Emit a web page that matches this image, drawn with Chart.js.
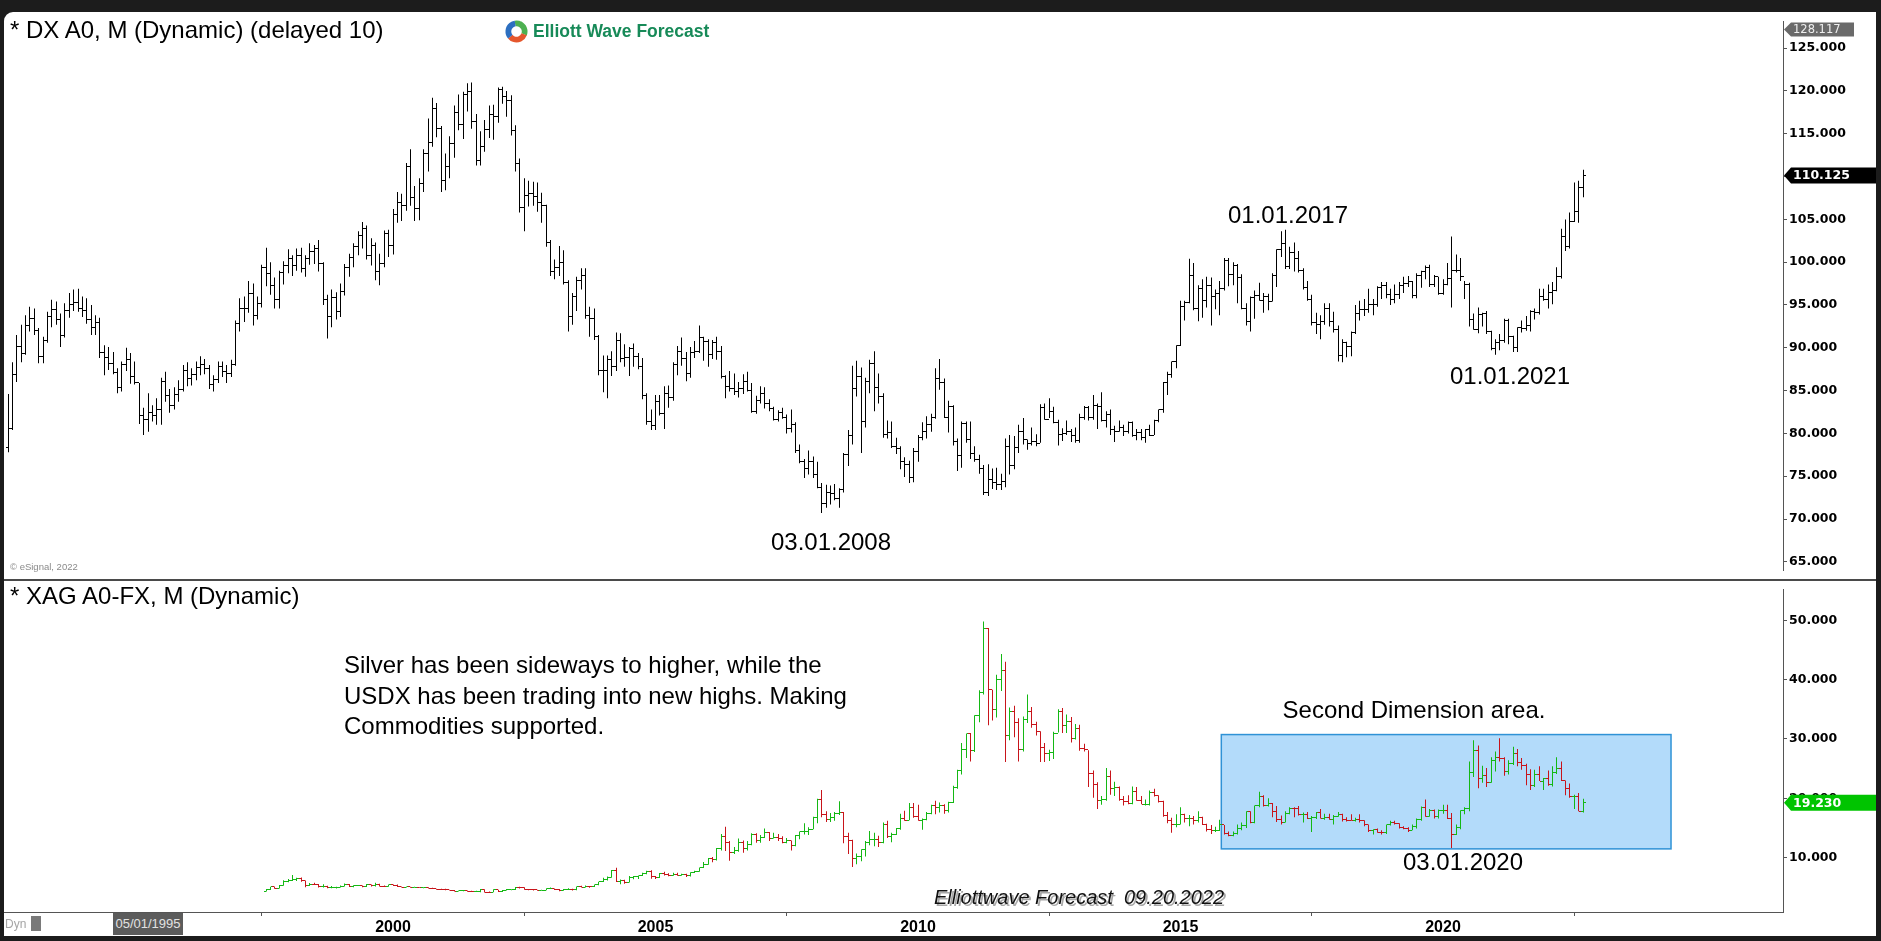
<!DOCTYPE html>
<html>
<head>
<meta charset="utf-8">
<script src="https://cdn.jsdelivr.net/npm/chart.js@4.4.0/dist/chart.umd.min.js"></script>
<style>
html, body { margin: 0; padding: 0; width: 1881px; height: 941px; overflow: hidden; background: #1c1c1c; }
#panel { position: absolute; left: 4px; top: 12px; width: 1872px; height: 924px; background: #fff; border-top-left-radius: 9px; }
canvas { position: absolute; left: 4px; }
#top { top: 12px; }
#bottom { top: 580px; }
#sep { position: absolute; left: 4px; top: 579px; width: 1872px; height: 2px; background: #4a4a4a; }
.t { position: absolute; font-family: "Liberation Sans", Arial, sans-serif; font-size: 24px; line-height: 24px; color: #000; white-space: pre; }
.c { transform: translateX(-50%); }
</style>
</head>
<body>
<div id="panel"></div>
<canvas id="top" width="1872" height="568"></canvas>
<canvas id="bottom" width="1872" height="356"></canvas>
<div id="sep"></div>

<div class="t" style="left:10px;top:18px">* DX A0, M (Dynamic) (delayed 10)</div>
<svg style="position:absolute;left:505px;top:20px" width="23" height="23" viewBox="0 0 24 24">
  <circle cx="12" cy="12" r="8.5" fill="none" stroke="#4db051" stroke-width="6" stroke-dasharray="17.8 35.6" transform="rotate(-100 12 12)"/>
  <circle cx="12" cy="12" r="8.5" fill="none" stroke="#e5572d" stroke-width="6" stroke-dasharray="17.8 35.6" transform="rotate(20 12 12)"/>
  <circle cx="12" cy="12" r="8.5" fill="none" stroke="#2d6fc0" stroke-width="6" stroke-dasharray="17.8 35.6" transform="rotate(140 12 12)"/>
</svg>
<div class="t" style="left:533px;top:23px;font-size:17.5px;line-height:17.5px;font-weight:bold;color:#178a58">Elliott Wave Forecast</div>
<div class="t c" style="left:1288px;top:203px">01.01.2017</div>
<div class="t c" style="left:1510px;top:364px">01.01.2021</div>
<div class="t c" style="left:831px;top:530px">03.01.2008</div>
<div class="t" style="left:10px;top:562px;font-size:9.5px;line-height:10px;color:#8a8a8a">© eSignal, 2022</div>

<div class="t" style="left:10px;top:584px">* XAG A0-FX, M (Dynamic)</div>
<div class="t" style="left:344px;top:650px;line-height:30.5px">Silver has been sideways to higher, while the
USDX has been trading into new highs. Making
Commodities supported.</div>
<div class="t c" style="left:1414px;top:698px">Second Dimension area.</div>
<div class="t c" style="left:1463px;top:850px">03.01.2020</div>
<div class="t c" style="left:1079px;top:887px;font-size:20px;line-height:20px;font-style:italic;color:#111;text-shadow:2px 2px 0 #a8a8a8">Elliottwave Forecast  09.20.2022</div>

<div class="t" style="left:5px;top:918px;font-size:12px;line-height:12px;color:#a6a6a6">Dyn</div>
<div style="position:absolute;left:31px;top:916px;width:10px;height:15px;background:#7a7a7a"></div>
<div class="t" style="left:113px;top:913px;width:70px;height:22px;background:#5c5c5c;color:#e2e2e2;font-size:13px;line-height:22px;text-align:center">05/01/1995</div>

<script>
// first month of each series: [year, month]
const dxyStart = [1992, 9];
const silverStart = [1997, 8];

// US Dollar index (DX A0), monthly
const dxyFirstOpen = 78.4;
const dxyHigh = [
  84.6, 88.3, 91.5, 92.7,
  93.8, 94.8, 94.6, 92.3, 91.3, 94.2, 95.6, 95.4, 94.0, 95.2, 96.4, 96.8,
  96.9, 96.0, 95.8, 95.0, 93.8, 93.5, 90.3, 90.1, 89.5, 87.6, 88.4, 90.0,
  89.4, 88.4, 85.9, 83.0, 84.7, 83.3, 84.1, 86.5, 87.2, 85.2, 85.4, 86.2,
  88.0, 88.3, 87.6, 88.4, 89.0, 88.7, 88.0, 86.8, 88.4, 88.4, 88.0, 88.6,
  93.2, 95.8, 96.0, 97.8, 97.5, 96.0, 99.7, 101.7, 100.0, 98.2, 99.0, 100.1,
  101.5, 100.8, 101.6, 101.7, 100.8, 102.2, 102.0, 102.6, 100.0, 96.2, 96.8, 96.5,
  97.5, 99.8, 101.0, 102.2, 103.6, 104.7, 104.3, 102.8, 102.3, 101.0, 103.7, 103.8,
  106.2, 108.2, 108.0, 111.6, 113.2, 108.9, 109.8, 113.2, 116.8, 119.2, 118.6, 115.9,
  112.7, 114.7, 118.3, 119.6, 119.9, 120.9, 121.0, 117.3, 115.3, 116.6, 118.3, 118.4,
  120.4, 120.5, 120.0, 119.5, 116.0, 112.1, 109.8, 109.5, 109.4, 109.3, 108.1, 106.7,
  102.6, 100.3, 101.9, 101.4, 97.9, 96.4, 98.3, 99.3, 99.3, 94.8, 94.6, 91.5,
  89.1, 89.1, 89.6, 91.8, 91.7, 90.4, 90.1, 90.5, 89.4, 88.8, 84.7, 82.8,
  84.5, 84.5, 85.5, 85.6, 88.3, 90.2, 91.2, 89.5, 90.1, 90.8, 92.6, 91.3,
  91.0, 90.9, 91.3, 90.2, 86.8, 87.3, 87.0, 86.0, 86.9, 87.2, 85.9, 84.4,
  85.5, 85.4, 84.0, 83.1, 82.7, 83.0, 82.2, 82.8, 81.3, 78.7, 77.0, 78.0,
  77.3, 76.7, 74.2, 74.0, 73.9, 74.1, 73.6, 77.7, 80.4, 87.9, 88.5, 87.7,
  86.5, 88.6, 89.6, 87.0, 84.7, 81.5, 81.4, 79.5, 78.5, 77.2, 76.8, 78.3,
  79.8, 81.3, 82.0, 82.3, 87.6, 88.7, 86.4, 83.8, 83.3, 79.4, 81.4, 81.4,
  81.4, 78.5, 77.5, 76.3, 76.4, 75.9, 76.0, 75.3, 79.4, 79.8, 79.7, 81.0,
  81.8, 79.3, 80.7, 79.9, 83.4, 83.5, 84.1, 83.1, 81.6, 80.6, 81.5, 80.5,
  80.7, 82.3, 83.2, 83.2, 84.5, 83.5, 84.8, 82.6, 82.8, 80.9, 81.5, 81.0,
  81.4, 81.4, 80.5, 80.5, 80.5, 81.0, 81.6, 82.8, 86.0, 87.2, 88.4, 90.3,
  95.5, 95.5, 100.4, 99.9, 97.3, 98.0, 98.3, 98.2, 96.8, 97.8, 100.5, 100.5,
  100.0, 99.8, 98.6, 95.2, 96.0, 96.7, 97.6, 96.4, 96.3, 98.7, 101.5, 103.6,
  103.8, 101.8, 102.3, 101.3, 99.3, 97.8, 96.2, 94.1, 93.8, 95.2, 95.2, 94.2,
  92.6, 91.0, 90.7, 91.9, 95.0, 95.5, 95.7, 96.9, 95.7, 97.2, 97.7, 97.7,
  96.9, 97.4, 97.7, 98.3, 98.4, 97.8, 98.7, 99.0, 99.6, 99.7, 98.5, 98.3,
  98.0, 99.9, 103.0, 100.9, 100.5, 97.8, 97.6, 94.0, 94.7, 94.1, 94.3, 92.0,
  91.0, 91.6, 93.4, 93.4, 91.4, 92.4, 93.2, 93.7, 94.4, 94.6, 96.9, 96.9,
  97.4, 97.7, 99.4, 103.9, 105.0, 105.8, 109.3, 109.5, 110.8
];
const dxyLow = [
  77.8, 80.4, 86.0, 88.3,
  89.2, 91.9, 91.5, 88.2, 88.2, 90.6, 92.4, 92.7, 90.1, 91.2, 93.5, 94.3,
  94.2, 93.6, 92.8, 91.5, 91.5, 88.8, 86.8, 87.4, 86.9, 84.7, 84.9, 87.3,
  85.8, 85.7, 81.1, 79.8, 80.2, 81.4, 81.0, 81.0, 83.7, 82.4, 82.8, 83.7,
  84.9, 85.5, 85.6, 86.2, 86.8, 86.9, 85.2, 84.9, 85.9, 86.6, 85.9, 86.6,
  87.9, 91.9, 93.0, 94.1, 92.6, 93.3, 94.7, 97.2, 96.2, 94.6, 94.6, 97.4,
  98.7, 98.4, 99.0, 98.8, 98.3, 99.7, 99.8, 98.9, 95.0, 91.1, 92.4, 93.3,
  93.6, 96.1, 98.3, 99.4, 100.8, 101.6, 100.3, 99.6, 97.9, 97.3, 99.4, 100.6,
  100.9, 104.6, 104.8, 106.0, 106.6, 104.8, 104.9, 108.2, 110.6, 113.5, 114.6, 108.2,
  108.4, 109.8, 112.2, 115.4, 114.4, 117.6, 115.6, 111.3, 111.3, 112.9, 114.5, 114.3,
  116.3, 118.5, 117.0, 114.8, 110.6, 105.8, 103.6, 106.5, 106.6, 105.9, 104.6, 101.8,
  98.4, 98.0, 98.4, 97.4, 91.9, 92.7, 94.3, 96.8, 93.4, 91.3, 90.9, 86.8,
  84.8, 84.1, 86.7, 87.3, 88.3, 87.8, 86.7, 87.8, 87.5, 84.0, 81.0, 80.4,
  80.4, 82.1, 80.5, 83.0, 83.8, 86.8, 87.9, 86.1, 86.5, 88.8, 89.4, 88.5,
  87.8, 88.7, 88.6, 86.4, 84.1, 84.9, 84.5, 84.2, 84.6, 84.9, 82.4, 82.3,
  83.5, 82.9, 82.6, 81.5, 81.4, 81.7, 80.0, 80.1, 77.7, 76.5, 74.8, 75.2,
  74.8, 73.6, 70.7, 71.3, 71.7, 72.2, 71.3, 73.1, 76.2, 78.7, 84.3, 77.7,
  80.7, 84.7, 82.6, 83.5, 79.5, 79.4, 78.3, 77.6, 75.8, 74.9, 74.2, 74.3,
  76.7, 79.2, 79.4, 80.2, 81.7, 85.1, 81.8, 80.1, 78.6, 75.6, 76.0, 78.9,
  77.0, 76.7, 75.3, 72.8, 72.7, 73.5, 73.4, 73.4, 73.7, 75.2, 75.8, 77.7,
  78.7, 78.1, 78.6, 78.5, 78.9, 81.6, 81.8, 81.2, 78.6, 79.1, 79.8, 79.0,
  78.9, 78.9, 81.6, 81.5, 81.6, 80.5, 81.4, 80.7, 79.8, 79.0, 80.2, 79.7,
  80.0, 79.6, 79.2, 79.2, 78.9, 79.7, 79.8, 81.3, 82.4, 84.5, 86.5, 87.6,
  90.2, 93.2, 95.2, 94.4, 93.1, 93.5, 94.7, 92.6, 94.5, 93.8, 96.7, 97.2,
  97.3, 95.2, 94.5, 92.6, 91.9, 93.4, 95.5, 94.1, 94.4, 95.4, 97.1, 100.6,
  99.2, 99.2, 98.9, 98.8, 96.8, 95.5, 92.6, 91.6, 91.0, 92.7, 92.5, 91.8,
  88.4, 88.3, 88.9, 89.0, 91.6, 93.2, 93.7, 94.1, 93.8, 94.8, 95.7, 95.8,
  95.0, 95.2, 95.7, 96.4, 97.1, 95.8, 95.8, 97.0, 98.0, 97.1, 97.1, 96.2,
  96.2, 97.3, 94.7, 98.8, 97.8, 95.7, 92.5, 92.1, 91.7, 92.5, 91.6, 89.7,
  89.2, 89.7, 90.6, 90.4, 89.5, 89.5, 91.8, 92.0, 91.9, 93.3, 93.9, 95.5,
  94.6, 95.1, 96.6, 98.1, 101.3, 101.6, 104.7, 104.6, 107.6
];
const dxyClose = [
  80.6, 86.9, 90.1, 89.3,
  92.6, 93.4, 92.0, 89.0, 90.8, 93.6, 94.5, 93.3, 91.4, 94.3, 95.1, 95.3,
  94.6, 94.4, 93.3, 92.4, 92.9, 89.4, 88.9, 88.2, 87.1, 85.4, 88.0, 88.6,
  86.7, 85.9, 82.1, 81.6, 82.4, 82.1, 82.8, 86.1, 84.4, 83.3, 84.6, 85.1,
  87.4, 86.4, 86.9, 87.7, 88.0, 87.6, 85.7, 86.3, 87.8, 87.2, 87.0, 88.1,
  92.8, 94.6, 94.6, 96.3, 93.8, 95.2, 99.4, 98.7, 97.3, 95.6, 98.8, 99.6,
  100.4, 99.6, 100.8, 99.3, 100.4, 101.2, 101.6, 99.8, 95.7, 93.6, 95.9, 94.2,
  96.6, 99.4, 100.5, 101.8, 103.1, 103.9, 100.8, 101.9, 98.9, 99.8, 103.3, 101.9,
  105.6, 107.0, 106.6, 111.2, 107.6, 106.3, 109.2, 112.7, 114.0, 117.9, 115.6, 109.6,
  111.2, 113.9, 117.5, 116.1, 119.6, 119.9, 116.4, 111.9, 113.5, 115.5, 117.3, 117.0,
  120.2, 119.4, 118.9, 115.4, 111.5, 106.4, 107.8, 108.0, 107.7, 107.0, 106.6, 102.3,
  98.9, 99.4, 100.0, 97.6, 93.6, 96.0, 97.9, 98.5, 93.8, 93.4, 91.3, 87.4,
  87.3, 88.6, 87.8, 90.8, 88.8, 88.9, 89.9, 89.0, 87.8, 84.4, 81.4, 80.9,
  83.7, 82.3, 84.7, 84.2, 88.0, 89.6, 88.8, 87.0, 89.5, 89.6, 91.2, 90.7,
  89.2, 90.6, 89.6, 86.6, 85.5, 85.3, 84.9, 85.2, 86.1, 85.0, 82.6, 83.8,
  84.7, 83.5, 82.9, 81.6, 82.4, 81.9, 80.6, 81.0, 78.0, 76.7, 75.9, 76.7,
  75.2, 73.7, 71.8, 73.1, 73.0, 72.4, 73.4, 77.5, 79.7, 85.3, 86.7, 81.4,
  86.1, 88.2, 85.4, 84.3, 79.9, 80.1, 78.5, 78.2, 76.7, 76.4, 74.9, 77.9,
  79.5, 80.2, 81.0, 81.8, 86.4, 86.0, 81.9, 83.2, 79.1, 77.4, 81.1, 79.3,
  77.6, 76.9, 75.9, 73.1, 74.6, 74.3, 74.0, 74.4, 78.5, 76.3, 78.3, 80.2,
  79.3, 78.8, 79.0, 78.8, 83.0, 81.6, 82.6, 81.3, 79.9, 80.0, 80.2, 79.8,
  79.2, 81.8, 83.0, 81.8, 83.3, 83.1, 81.5, 82.2, 80.4, 80.2, 80.7, 80.2,
  81.3, 79.7, 80.1, 79.5, 80.4, 79.8, 81.5, 82.8, 86.0, 86.9, 88.4, 90.3,
  94.8, 95.3, 98.4, 94.6, 96.9, 95.5, 97.3, 96.0, 96.3, 96.9, 100.2, 98.6,
  99.6, 98.2, 94.6, 93.1, 95.9, 96.1, 95.5, 96.0, 95.4, 98.4, 101.5, 102.2,
  99.5, 101.1, 100.4, 99.0, 97.0, 95.6, 92.9, 92.7, 93.1, 94.6, 93.1, 92.1,
  89.1, 90.6, 90.2, 91.8, 94.0, 94.5, 94.5, 95.1, 95.1, 97.1, 97.3, 96.2,
  95.6, 96.2, 97.3, 97.5, 97.8, 96.1, 98.5, 98.9, 99.4, 97.4, 98.3, 96.4,
  97.4, 98.1, 99.0, 99.0, 98.3, 97.4, 93.3, 92.1, 93.9, 94.0, 91.9, 89.9,
  90.6, 90.9, 93.2, 91.3, 90.0, 92.4, 92.2, 92.6, 94.2, 94.1, 96.0, 95.7,
  96.5, 96.7, 98.3, 103.0, 101.8, 104.7, 105.9, 108.7, 110.125
];

// Silver (XAG A0-FX), monthly
const silverFirstOpen = 4.35;
const silverHigh = [
  4.70, 5.10, 5.15, 5.40, 6.20,
  6.40, 7.05, 6.60, 6.65, 6.15, 5.70, 5.75, 5.55, 5.50, 5.25, 5.20, 5.10,
  5.30, 5.65, 5.55, 5.35, 5.40, 5.30, 5.55, 5.45, 5.75, 5.60, 5.30, 5.45,
  5.45, 5.45, 5.15, 5.15, 5.10, 5.10, 5.05, 5.00, 5.00, 4.90, 4.75, 4.75,
  4.75, 4.60, 4.55, 4.45, 4.55, 4.45, 4.40, 4.40, 4.70, 4.65, 4.30, 4.65,
  4.60, 4.55, 4.70, 4.65, 5.05, 5.10, 5.00, 4.70, 4.70, 4.60, 4.60, 4.85,
  4.95, 4.80, 4.70, 4.70, 4.85, 4.75, 5.15, 5.25, 5.30, 5.20, 5.45, 5.95,
  6.60, 6.80, 7.90, 8.30, 6.30, 6.25, 6.90, 6.90, 7.00, 7.45, 7.80, 7.85,
  6.90, 7.40, 7.60, 7.35, 7.45, 7.45, 7.30, 7.30, 7.55, 7.80, 8.35, 9.25,
  9.95, 10.10, 11.60, 14.00, 15.20, 12.80, 11.80, 13.20, 12.90, 12.80, 14.10, 14.10,
  13.80, 14.90, 14.30, 14.20, 14.00, 13.60, 13.30, 12.90, 13.80, 14.40, 15.80, 15.10,
  16.90, 19.90, 21.40, 17.80, 17.50, 17.70, 19.50, 17.70, 14.20, 13.00, 10.70, 11.40,
  12.80, 14.50, 14.20, 13.70, 15.90, 16.20, 14.20, 15.00, 17.40, 17.90, 19.20, 19.20,
  18.90, 16.60, 17.70, 18.90, 19.60, 19.30, 19.00, 19.40, 22.10, 24.80, 29.30, 30.90,
  31.00, 34.00, 38.20, 49.80, 48.70, 38.30, 40.80, 44.30, 43.00, 35.30, 35.60, 33.50,
  33.80, 37.50, 35.40, 32.90, 31.30, 29.30, 28.20, 31.20, 35.00, 35.20, 34.10, 33.70,
  32.50, 32.40, 29.20, 28.10, 24.70, 22.70, 20.40, 25.10, 24.70, 22.80, 22.00, 20.40,
  20.50, 22.00, 21.90, 20.40, 19.80, 21.30, 21.60, 20.50, 19.60, 17.70, 16.70, 17.30,
  18.50, 17.40, 17.20, 17.00, 17.80, 16.90, 15.70, 15.50, 15.20, 16.40, 15.50, 14.40,
  14.40, 15.60, 15.90, 17.80, 17.80, 18.80, 21.10, 20.50, 20.00, 19.20, 18.70, 17.10,
  17.80, 18.50, 18.50, 18.70, 17.60, 17.70, 17.00, 17.70, 18.20, 17.40, 17.40, 17.20,
  17.70, 17.40, 16.80, 17.30, 16.70, 17.30, 16.30, 15.60, 14.80, 14.90, 14.60, 15.60,
  16.20, 16.20, 15.80, 15.30, 15.10, 15.60, 16.60, 18.60, 19.80, 18.20, 18.10, 18.10,
  18.90, 18.90, 17.50, 15.60, 18.00, 18.50, 26.20, 29.80, 28.90, 25.50, 25.10, 26.90,
  27.90, 30.10, 26.90, 26.40, 28.70, 28.30, 26.80, 25.80, 24.90, 24.80, 25.40, 23.40,
  24.70, 25.40, 26.90, 26.20, 23.00, 22.50, 20.60, 20.90, 19.90
];
const silverLow = [
  4.30, 4.55, 4.75, 4.80, 5.25,
  5.85, 6.05, 6.05, 5.95, 5.00, 5.20, 5.40, 4.95, 4.95, 4.85, 4.85, 4.80,
  4.95, 5.15, 5.05, 5.00, 5.20, 5.00, 5.05, 5.15, 5.15, 5.15, 5.05, 5.10,
  5.20, 5.05, 4.95, 4.95, 4.90, 4.90, 4.90, 4.85, 4.80, 4.70, 4.60, 4.55,
  4.50, 4.45, 4.30, 4.30, 4.35, 4.25, 4.20, 4.20, 4.15, 4.10, 4.05, 4.15,
  4.20, 4.20, 4.45, 4.50, 4.55, 4.80, 4.60, 4.50, 4.45, 4.40, 4.40, 4.50,
  4.70, 4.55, 4.35, 4.40, 4.55, 4.45, 4.50, 4.95, 4.95, 4.90, 5.05, 5.35,
  5.90, 6.15, 6.60, 5.90, 5.50, 5.60, 5.80, 6.35, 6.40, 6.90, 7.20, 6.45,
  6.40, 6.55, 7.00, 6.85, 6.95, 6.95, 6.95, 6.75, 6.80, 7.40, 7.60, 8.25,
  8.80, 9.20, 9.50, 11.20, 11.10, 9.45, 10.60, 11.00, 10.80, 11.20, 12.10, 12.50,
  12.50, 13.30, 12.80, 13.20, 12.80, 12.40, 12.40, 11.20, 11.90, 13.10, 13.90, 13.80,
  14.80, 15.80, 16.80, 16.00, 16.00, 16.20, 17.20, 12.40, 10.60, 8.40, 8.90, 9.40,
  10.20, 12.10, 11.90, 11.80, 12.40, 13.30, 12.60, 13.80, 14.70, 16.20, 16.30, 16.70,
  16.20, 14.70, 16.30, 17.30, 17.30, 17.60, 17.40, 17.60, 19.20, 21.60, 24.00, 26.80,
  26.20, 27.80, 32.80, 37.50, 32.30, 33.10, 33.60, 38.10, 26.10, 29.80, 30.30, 26.20,
  27.90, 32.70, 31.90, 30.60, 26.10, 26.10, 26.30, 26.60, 31.10, 31.00, 31.00, 29.40,
  29.90, 28.00, 27.90, 21.90, 20.10, 18.20, 18.90, 19.60, 20.60, 20.40, 19.60, 18.80,
  19.00, 19.00, 19.60, 19.00, 18.80, 18.80, 20.30, 19.30, 16.90, 15.80, 14.20, 15.10,
  15.60, 15.90, 15.30, 15.60, 15.90, 15.50, 14.40, 14.00, 14.30, 14.50, 13.90, 13.60,
  13.60, 13.90, 14.60, 15.00, 15.80, 15.80, 18.50, 18.60, 18.60, 16.80, 16.00, 15.60,
  15.90, 17.30, 16.80, 17.10, 15.90, 16.50, 14.30, 16.50, 16.60, 16.40, 16.40, 15.60,
  16.90, 16.10, 16.10, 16.20, 16.10, 15.90, 15.30, 14.30, 13.90, 14.20, 13.90, 14.00,
  15.40, 15.60, 14.90, 14.80, 14.30, 14.60, 14.90, 16.20, 16.90, 16.90, 16.60, 16.60,
  17.40, 16.50, 11.60, 13.80, 14.80, 17.30, 17.80, 23.60, 21.70, 22.60, 21.90, 22.60,
  24.50, 26.20, 23.80, 24.00, 25.60, 25.40, 24.80, 22.20, 21.40, 21.90, 22.90, 21.40,
  22.10, 22.00, 24.10, 22.90, 20.50, 20.10, 18.20, 17.80, 17.60
];
const silverClose = [
  4.55, 5.05, 4.75, 5.30, 5.95,
  6.10, 6.35, 6.40, 6.15, 5.30, 5.55, 5.50, 5.05, 5.20, 4.95, 5.00, 5.00,
  5.20, 5.50, 5.10, 5.25, 5.30, 5.10, 5.40, 5.25, 5.55, 5.20, 5.15, 5.40,
  5.30, 5.10, 5.00, 5.05, 4.95, 5.00, 4.95, 4.95, 4.85, 4.75, 4.65, 4.60,
  4.55, 4.50, 4.35, 4.40, 4.40, 4.30, 4.25, 4.30, 4.60, 4.20, 4.15, 4.60,
  4.25, 4.50, 4.60, 4.60, 5.00, 4.90, 4.65, 4.60, 4.55, 4.45, 4.50, 4.80,
  4.80, 4.60, 4.40, 4.60, 4.60, 4.55, 5.10, 5.00, 5.20, 5.10, 5.40, 5.95,
  6.30, 6.70, 7.90, 6.00, 6.10, 5.85, 6.60, 6.75, 6.95, 7.30, 7.60, 6.80,
  6.70, 7.35, 7.10, 6.95, 7.20, 7.05, 7.10, 6.90, 7.50, 7.70, 8.30, 8.85,
  9.85, 9.65, 11.55, 13.50, 12.60, 10.90, 11.20, 12.50, 11.50, 12.20, 13.90, 12.90,
  13.40, 14.30, 13.30, 13.40, 13.20, 12.50, 12.90, 12.10, 13.70, 14.40, 14.40, 14.80,
  16.70, 19.80, 17.20, 16.40, 16.80, 17.50, 17.60, 13.60, 12.90, 9.80, 10.20, 11.30,
  12.60, 13.00, 13.10, 12.50, 15.60, 13.60, 13.90, 14.90, 16.60, 16.20, 18.50, 16.90,
  16.20, 16.40, 17.50, 18.70, 18.40, 18.70, 18.00, 19.30, 21.90, 24.70, 28.20, 30.90,
  28.00, 34.00, 37.90, 48.60, 38.30, 35.00, 40.00, 41.60, 30.50, 34.70, 32.70, 28.20,
  33.20, 34.60, 32.50, 31.20, 28.50, 27.50, 27.80, 31.00, 34.60, 32.30, 33.00, 30.00,
  31.70, 28.40, 28.30, 24.20, 22.30, 19.70, 19.80, 23.70, 21.70, 21.90, 19.80, 19.40,
  19.10, 21.20, 19.70, 19.00, 19.00, 21.00, 20.40, 19.50, 17.10, 16.20, 15.50, 15.60,
  17.20, 16.60, 16.60, 16.20, 16.80, 15.60, 14.70, 14.60, 14.60, 15.50, 14.10, 13.80,
  14.00, 14.90, 15.40, 17.80, 16.00, 18.70, 20.30, 18.70, 19.20, 17.80, 16.50, 15.90,
  17.50, 18.30, 18.20, 17.20, 17.30, 16.60, 16.70, 17.60, 16.60, 16.70, 16.40, 16.90,
  17.30, 16.40, 16.30, 16.20, 16.40, 16.30, 15.50, 14.50, 14.70, 14.30, 14.20, 15.50,
  16.00, 15.70, 15.10, 14.90, 14.60, 15.30, 16.40, 18.40, 16.90, 18.00, 16.90, 17.90,
  18.00, 16.60, 13.90, 15.00, 18.00, 18.20, 24.30, 28.00, 23.40, 23.90, 22.60, 26.40,
  26.90, 26.70, 24.50, 25.90, 27.50, 26.10, 25.50, 24.00, 22.20, 24.00, 22.90, 23.30,
  22.40, 24.40, 25.10, 23.00, 21.60, 20.30, 20.30, 17.80, 19.23
];

// axes
const timeRange = [1992.590, 2026.476];
const yearTicks = [1995, 2000, 2005, 2010, 2015, 2020];
const dxyRange = [63.984, 128.117];
const dxyTicks = [65, 70, 75, 80, 85, 90, 95, 100, 105, 110, 115, 120, 125];
const silverRange = [0.832, 55.19];
const silverTicks = [10, 20, 30, 40, 50];

// price flags on the right axis and the highlighted box
const dxyFlags = [128.117, 110.125];
const silverFlags = [19.23];
const boxTime = [2015.777, 2024.343];
const boxPrice = [11.47, 30.74];

function monthX(start, i) {
  return start[0] + (start[1] - 1 + i) / 12;
}
function barData(start, high, low) {
  return high.map((h, i) => ({ x: monthX(start, i), y: [low[i], h] }));
}
// a month opens where the previous month closed
function openOf(first, close) {
  return close.map((c, i) => i === 0 ? first : close[i - 1]);
}

const dxyOpen = openOf(dxyFirstOpen, dxyClose);
const silverOpen = openOf(silverFirstOpen, silverClose);
const silverColors = silverClose.map((c, i) => c >= silverOpen[i] ? '#14b814' : '#c8141a');

// snap the 1px bars to whole pixels so they stay crisp
const snapBars = {
  id: 'snapBars',
  afterDatasetsUpdate(chart) {
    chart.getDatasetMeta(0).data.forEach(el => { el.x = Math.floor(el.x) + 0.5; });
  }
};

// open tick on the left, close tick on the right
const ohlcTicks = {
  id: 'ohlcTicks',
  afterDatasetsDraw(chart) {
    const ctx = chart.ctx, a = chart.chartArea, ys = chart.scales.y;
    const ds = chart.data.datasets[0];
    ctx.save();
    ctx.beginPath();
    ctx.rect(a.left, a.top, a.width, a.height);
    ctx.clip();
    chart.getDatasetMeta(0).data.forEach((el, i) => {
      const x = Math.floor(el.x);
      ctx.fillStyle = Array.isArray(ds.backgroundColor) ? ds.backgroundColor[i] : ds.backgroundColor;
      ctx.fillRect(x - 2, Math.floor(ys.getPixelForValue(ds.opens[i])), 2, 1);
      ctx.fillRect(x + 1, Math.floor(ys.getPixelForValue(ds.closes[i])), 2, 1);
    });
    ctx.restore();
  }
};

const blueBox = {
  id: 'blueBox',
  beforeDatasetsDraw(chart) {
    const ctx = chart.ctx, xs = chart.scales.x, ys = chart.scales.y;
    const x0 = xs.getPixelForValue(boxTime[0]), x1 = xs.getPixelForValue(boxTime[1]);
    const y0 = ys.getPixelForValue(boxPrice[1]), y1 = ys.getPixelForValue(boxPrice[0]);
    ctx.save();
    ctx.fillStyle = '#b3dbfa';
    ctx.fillRect(x0, y0, x1 - x0, y1 - y0);
    ctx.strokeStyle = '#2f92d6';
    ctx.lineWidth = 1.5;
    ctx.strokeRect(x0, y0, x1 - x0, y1 - y0);
    ctx.restore();
  }
};

function drawFlag(chart, value, text, bg, fg, font, w, h) {
  const ctx = chart.ctx, a = chart.chartArea;
  const py = Math.max(chart.scales.y.getPixelForValue(value), a.top + h / 2 + 1);
  const x0 = a.right + 1;
  ctx.save();
  ctx.fillStyle = bg;
  ctx.beginPath();
  ctx.moveTo(x0, py);
  ctx.lineTo(x0 + 7, py - h / 2);
  ctx.lineTo(x0 + w, py - h / 2);
  ctx.lineTo(x0 + w, py + h / 2);
  ctx.lineTo(x0 + 7, py + h / 2);
  ctx.closePath();
  ctx.fill();
  ctx.fillStyle = fg;
  ctx.font = font;
  ctx.textAlign = 'left';
  ctx.textBaseline = 'middle';
  ctx.fillText(text, x0 + 9, py + 0.5);
  ctx.restore();
}

const flags = {
  id: 'flags',
  afterDraw(chart) {
    if (chart.canvas.id === 'top') {
      drawFlag(chart, dxyFlags[0], dxyFlags[0].toFixed(3), '#6a6a6a', '#eeeeee', '11.5px "DejaVu Sans"', 70, 14);
      drawFlag(chart, dxyFlags[1], dxyFlags[1].toFixed(3), '#000000', '#ffffff', 'bold 12.5px "DejaVu Sans"', 93, 16);
    } else {
      drawFlag(chart, silverFlags[0], silverFlags[0].toFixed(3), '#00c400', '#ffffff', 'bold 12.5px "DejaVu Sans"', 93, 16);
    }
  }
};

function priceAxis(range, ticks) {
  return {
    position: 'right',
    min: range[0],
    max: range[1],
    afterBuildTicks: s => { s.ticks = ticks.map(v => ({ value: v })); },
    afterFit: s => { s.width = 93; },
    ticks: {
      callback: v => Number(v).toFixed(3),
      color: '#000',
      padding: 2,
      font: { family: 'DejaVu Sans', size: 12.5, weight: 'bold' }
    },
    grid: { drawOnChartArea: false, tickLength: 4, color: '#555' },
    border: { color: '#555', width: 1 }
  };
}

const common = {
  responsive: false,
  animation: false,
  devicePixelRatio: 1,
  layout: { padding: 0 },
  plugins: { legend: { display: false }, tooltip: { enabled: false } }
};

new Chart(document.getElementById('top'), {
  type: 'bar',
  data: {
    datasets: [{
      data: barData(dxyStart, dxyHigh, dxyLow),
      opens: dxyOpen,
      closes: dxyClose,
      backgroundColor: '#000',
      barThickness: 1,
      inflateAmount: 0,
      borderWidth: 0
    }]
  },
  options: Object.assign({}, common, {
    scales: {
      x: { type: 'linear', display: false, offset: false, min: timeRange[0], max: timeRange[1] },
      y: priceAxis(dxyRange, dxyTicks)
    }
  }),
  plugins: [snapBars, ohlcTicks, flags]
});

new Chart(document.getElementById('bottom'), {
  type: 'bar',
  data: {
    datasets: [{
      data: barData(silverStart, silverHigh, silverLow),
      opens: silverOpen,
      closes: silverClose,
      backgroundColor: silverColors,
      barThickness: 1,
      inflateAmount: 0,
      borderWidth: 0
    }]
  },
  options: Object.assign({}, common, {
    scales: {
      x: {
        type: 'linear',
        offset: false,
        min: timeRange[0],
        max: timeRange[1],
        afterBuildTicks: s => { s.ticks = yearTicks.map(v => ({ value: v })); },
        afterFit: s => { s.height = 24; },
        ticks: {
          callback: v => String(v),
          color: '#000',
          padding: 2,
          maxRotation: 0,
          autoSkip: false,
          font: { family: 'Liberation Sans', size: 16, weight: 'bold' }
        },
        grid: { drawOnChartArea: false, tickLength: 4, color: '#555' },
        border: { color: '#555', width: 1 }
      },
      y: priceAxis(silverRange, silverTicks)
    }
  }),
  plugins: [blueBox, snapBars, ohlcTicks, flags]
});
</script>
</body>
</html>
